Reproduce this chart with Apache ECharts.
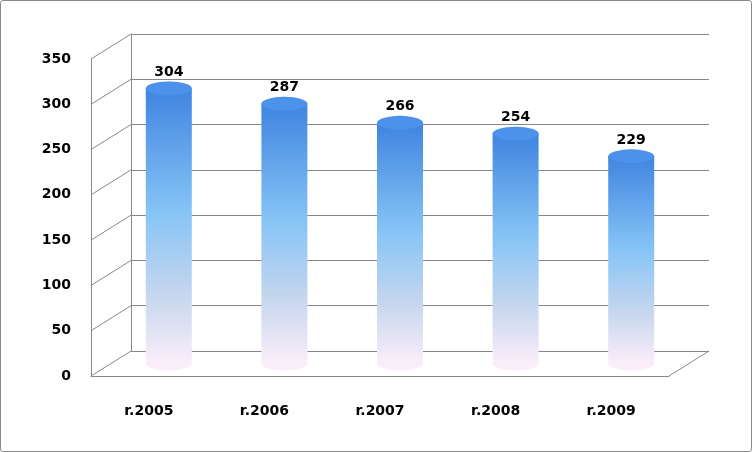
<!DOCTYPE html>
<html><head><meta charset="utf-8">
<script src="https://cdn.jsdelivr.net/npm/echarts@6/dist/echarts.min.js"></script>
<style>html,body{margin:0;padding:0;background:#fff}#c{width:750px;height:450px;border:1px solid #8a8a8a;border-radius:3px}</style>
</head><body><div id="c"></div>
<script>
const categories = ['r.2005','r.2006','r.2007','r.2008','r.2009'];
const values = [304,287,266,254,229];
const yTicks = [0,50,100,150,200,250,300,350];

const DX = 40, DY = -25;
const chart = echarts.init(document.getElementById('c'));
const cyl = {type:'linear',x:0,y:0,x2:0,y2:1,colorStops:[
  {offset:0,color:'#3f84e0'},{offset:0.45,color:'#86c4f6'},{offset:0.75,color:'#c6d6ee'},{offset:1,color:'#fbeefa'}]};
const font = 'DejaVu Sans, sans-serif';
chart.setOption({
  animation:false,
  grid:[
    {left:90,right:82,top:58,bottom:75},
    {left:90+DX,right:82-DX,top:58+DY,bottom:75-DY},
    {left:90+DX/2,right:82-DX/2,top:58+DY/2,bottom:75-DY/2}
  ],
  xAxis:[
    {gridIndex:0,type:'category',data:categories,axisLine:{show:true,lineStyle:{color:'#888'}},axisTick:{show:false},
     axisLabel:{color:'#000',fontSize:14,fontWeight:'bold',fontFamily:font,margin:28}},
    {gridIndex:1,type:'category',data:categories,show:false},
    {gridIndex:2,type:'category',data:categories,show:false}
  ],
  yAxis:[
    {gridIndex:0,type:'value',min:0,max:350,interval:50,axisLine:{show:true,lineStyle:{color:'#888'}},axisTick:{show:false},splitLine:{show:false},
     axisLabel:{color:'#000',fontSize:14,fontWeight:'bold',fontFamily:font,margin:20}},
    {gridIndex:1,type:'value',min:0,max:350,interval:50,axisLine:{show:true,lineStyle:{color:'#888'}},axisTick:{show:false},axisLabel:{show:false},
     splitLine:{show:true,lineStyle:{color:'#888',width:1}}},
    {gridIndex:2,type:'value',min:0,max:350,interval:50,show:false}
  ],
  series:[
    {type:'custom',xAxisIndex:0,yAxisIndex:0,data:yTicks.map(v=>[0,v]),silent:true,
     renderItem:(params,api)=>{
       const p = api.coord([0,api.value(1)]);
       const x0 = params.coordSys.x;
       const children=[{type:'line',shape:{x1:x0,y1:p[1],x2:x0+DX,y2:p[1]+DY},style:{stroke:'#888',lineWidth:1}}];
       if(api.value(1)===0){
         const x1 = params.coordSys.x+params.coordSys.width;
         children.push({type:'line',shape:{x1:x1,y1:p[1],x2:x1+DX,y2:p[1]+DY},style:{stroke:'#888',lineWidth:1}});
       }
       return {type:'group',children};
     }},
    {type:'bar',xAxisIndex:2,yAxisIndex:2,data:values,barWidth:46,itemStyle:{color:cyl},z:3},
    {type:'pictorialBar',xAxisIndex:2,yAxisIndex:2,data:values.map(()=>0),symbol:'circle',symbolSize:[46,14],
     symbolOffset:[0,'50%'],symbolPosition:'start',itemStyle:{color:'#fbeefa'},z:2},
    {type:'pictorialBar',xAxisIndex:2,yAxisIndex:2,data:values,symbol:'circle',symbolSize:[46,14],
     symbolOffset:[0,'-50%'],symbolPosition:'end',
     itemStyle:{color:'#4d92ea',borderColor:'#3570c8',borderWidth:1},z:4,
     label:{show:true,position:'top',distance:2,color:'#000',fontSize:14,fontWeight:'bold',fontFamily:font}}
  ]
});
</script></body></html>
